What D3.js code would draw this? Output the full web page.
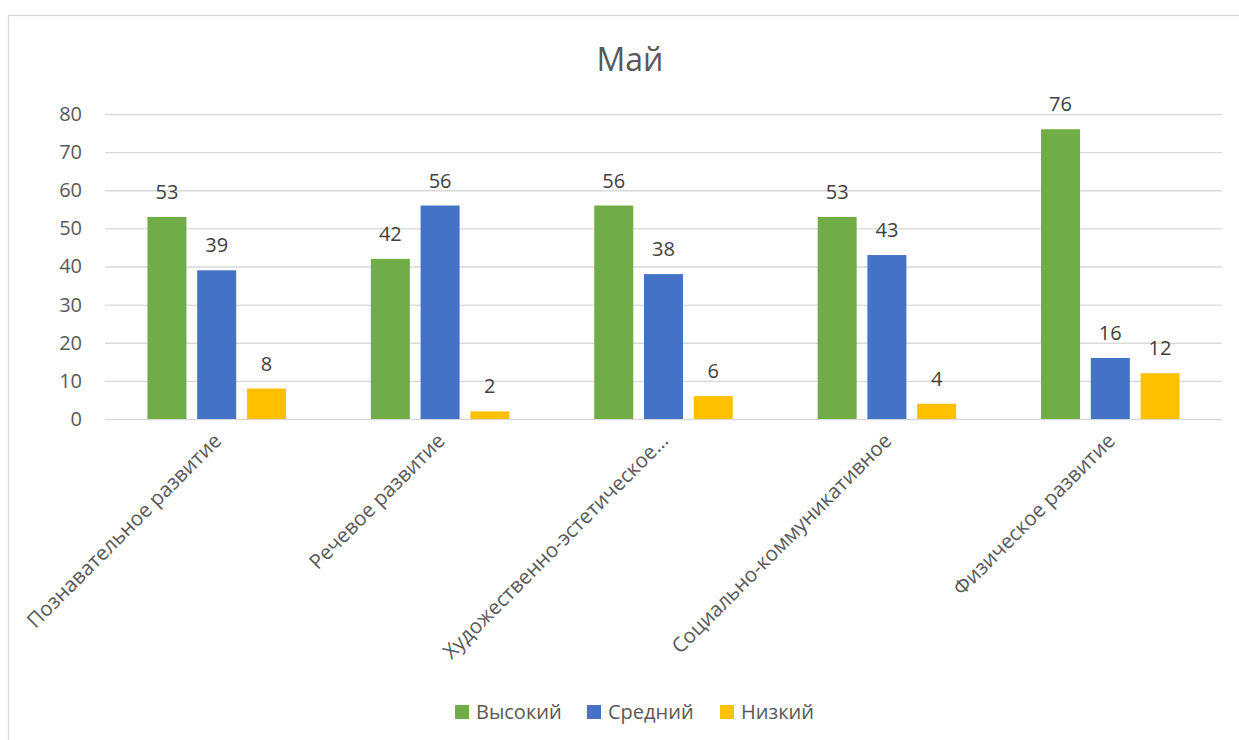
<!DOCTYPE html>
<html lang="ru">
<head>
<meta charset="utf-8">
<title>Май</title>
<style type="text/css">
    body { margin: 0; background: #fff; }
    text { font-family: "Open Sans", sans-serif; }
</style>
</head>
<body>
<script src="https://d3js.org/d3.v7.min.js"></script>
<script>

    var w = 1239;
    var h = 740;

    // data
    var categories = ["Познавательное развитие", "Речевое развитие", "Художественно-эстетическое…", "Социально-коммуникативное", "Физическое развитие"];
    var seriesNames = ["Высокий", "Средний", "Низкий"];
    var seriesColors = ["#70ad47", "#4472c4", "#ffc000"];
    var vysokiy = [53, 42, 56, 53, 76];
    var sredniy = [39, 56, 38, 43, 16];
    var nizkiy = [8, 2, 6, 4, 12];
    var yTicks = [0, 10, 20, 30, 40, 50, 60, 70, 80];

    var seriesValues = [vysokiy, sredniy, nizkiy];

    var svg = d3.select("body")
        .append("svg")
        .attr("width", w)
        .attr("height", h);

    svg.append("rect")
        .attr("x", 0).attr("y", 0)
        .attr("width", w).attr("height", h)
        .attr("fill", "#fff");

    // chart frame
    svg.append("rect")
        .attr("x", 8.5).attr("y", 15.5)
        .attr("width", w).attr("height", h)
        .attr("fill", "none")
        .attr("stroke", "#d9d9d9")
        .attr("stroke-width", 1.3);

    var x0 = d3.scaleBand()
        .domain(categories)
        .range([105, 1222]);

    var x1 = d3.scaleBand()
        .domain(seriesNames)
        .range([x0.bandwidth() * 0.19, x0.bandwidth() * 0.81])
        .paddingInner(0.216);

    var y = d3.scaleLinear()
        .domain([0, 80])
        .range([419, 114]);

    // gridlines + y labels
    var yAxis = d3.axisLeft(y)
        .tickValues(yTicks)
        .tickSize(-(1222 - 105))
        .tickPadding(23);

    var gy = svg.append("g")
        .attr("transform", "translate(105,0)")
        .call(yAxis);
    gy.select(".domain").remove();
    gy.selectAll(".tick line")
        .attr("stroke", "#d9d9d9")
        .attr("stroke-width", 1.3);
    gy.selectAll(".tick text")
        .attr("fill", "#595959")
        .style("font-size", "20px")
        .style("font-family", "'Open Sans', sans-serif");

    // bars
    var groups = svg.selectAll("g.cat")
        .data(categories)
        .enter()
        .append("g")
        .attr("class", "cat")
        .attr("transform", function(d) { return "translate(" + x0(d) + ",0)"; });

    seriesNames.forEach(function(s, si) {
        groups.append("rect")
            .attr("x", x1(s))
            .attr("y", function(d, i) { return y(seriesValues[si][i]); })
            .attr("width", x1.bandwidth())
            .attr("height", function(d, i) { return y(0) - y(seriesValues[si][i]); })
            .attr("fill", seriesColors[si]);

        groups.append("text")
            .attr("x", x1(s) + x1.bandwidth() / 2)
            .attr("y", function(d, i) { return y(seriesValues[si][i]) - 18; })
            .attr("text-anchor", "middle")
            .attr("fill", "#404040")
            .style("font-size", "20px")
            .text(function(d, i) { return seriesValues[si][i]; });
    });

    // category labels, rotated
    svg.selectAll("text.cat")
        .data(categories)
        .enter()
        .append("text")
        .attr("class", "cat")
        .attr("transform", function(d) {
            return "translate(" + (x0(d) + x0.bandwidth() / 2 + 6) + "," + 442 + ") rotate(-45)";
        })
        .attr("text-anchor", "end")
        .attr("fill", "#595959")
        .style("font-size", "20.5px")
        .text(function(d) { return d; });

    // title
    svg.append("text")
        .attr("x", 630)
        .attr("y", 71)
        .attr("text-anchor", "middle")
        .attr("fill", "#595959")
        .style("font-size", "32px")
        .text("Май");

    // legend
    var legendX = [455, 587, 720];
    var legend = svg.selectAll("g.legend")
        .data(seriesNames)
        .enter()
        .append("g")
        .attr("class", "legend")
        .attr("transform", function(d, i) { return "translate(" + legendX[i] + ",705)"; });

    legend.append("rect")
        .attr("width", 14)
        .attr("height", 14)
        .attr("fill", function(d, i) { return seriesColors[i]; });

    legend.append("text")
        .attr("x", 21)
        .attr("y", 14)
        .attr("fill", "#595959")
        .style("font-size", "20px")
        .text(function(d) { return d; });

</script>
</body>
</html>
